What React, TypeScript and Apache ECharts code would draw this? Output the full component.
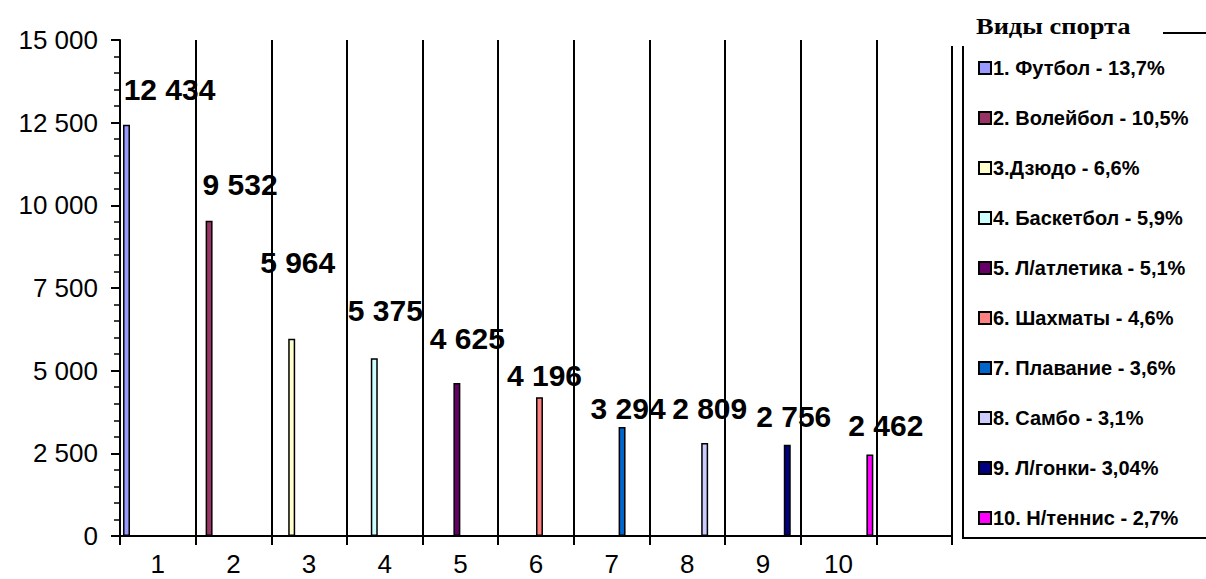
import React, { useEffect, useRef } from "react";
import * as echarts from "echarts";

const categories = ["1", "2", "3", "4", "5", "6", "7", "8", "9", "10", ""];
const sportNames = [
  "1. Футбол - 13,7%",
  "2. Волейбол - 10,5%",
  "3.Дзюдо - 6,6%",
  "4. Баскетбол - 5,9%",
  "5. Л/атлетика - 5,1%",
  "6. Шахматы - 4,6%",
  "7. Плавание - 3,6%",
  "8. Самбо - 3,1%",
  "9. Л/гонки- 3,04%",
  "10. Н/теннис - 2,7%",
];
const values = [12434, 9532, 5964, 5375, 4625, 4196, 3294, 2809, 2756, 2462];
const colors = [
  "#9999FF",
  "#993366",
  "#FFFFCC",
  "#CCFFFF",
  "#660066",
  "#FF8080",
  "#0066CC",
  "#CCCCFF",
  "#000080",
  "#FF00FF",
];
// label placement (layout only)
const labelOffsets = [
  [43, -35],
  [31, -36],
  [6, -76],
  [11, -48],
  [10.5, -45],
  [5, -22],
  [6, -18.5],
  [5, -34.5],
  [6.5, -28],
  [16, -28.6],
];
const legendTitle = "Виды спорта";

const fmt = (v: number) => String(v).replace(/\B(?=(\d{3})+(?!\d))/g, " ");

export default function App() {
  const ref = useRef<HTMLDivElement>(null);
  useEffect(() => {
    if (!ref.current) return;
    const chart = echarts.init(ref.current, null, { renderer: "svg" });
    const series = values.map((v, i) => ({
      type: "bar",
      name: sportNames[i],
      data: categories.map((_, j) => (j === i ? v : null)),
      barGap: 0,
      barCategoryGap: "8%",
      itemStyle: { color: colors[i], borderColor: "#000", borderWidth: 1.5 },
      label: {
        show: true,
        position: "top",
        distance: 0,
        align: "center",
        verticalAlign: "middle",
        offset: labelOffsets[i],
        fontSize: 30,
        fontWeight: "bold",
        fontFamily: "Arial, 'Liberation Sans'",
        color: "#000",
        formatter: (p: any) => fmt(p.value),
      },
    }));
    chart.setOption({
      animation: false,
      backgroundColor: "#fff",
      grid: { left: 120, right: 254, top: 40, bottom: 43, containLabel: false },
      xAxis: {
        type: "category",
        data: categories,
        axisLine: { show: true, lineStyle: { color: "#000", width: 2 } },
        axisTick: { show: true, length: 9, lineStyle: { color: "#000", width: 2 } },
        splitLine: { show: true, lineStyle: { color: "#000", width: 2 } },
        axisLabel: {
          interval: 0,
          fontSize: 26,
          color: "#000",
          fontFamily: "Arial, 'Liberation Sans'",
          margin: 15,
        },
      },
      yAxis: {
        type: "value",
        min: 0,
        max: 15000,
        interval: 2500,
        axisLine: { show: true, lineStyle: { color: "#000", width: 2 } },
        axisTick: { show: true, length: 9, lineStyle: { color: "#000", width: 2 } },
        minorTick: { show: true, splitNumber: 5, length: 6, lineStyle: { color: "#000", width: 1.5 } },
        splitLine: { show: false },
        axisLabel: {
          fontSize: 26,
          color: "#000",
          fontFamily: "Arial, 'Liberation Sans'",
          margin: 22,
          formatter: (v: number) => fmt(v),
        },
      },
      legend: {
        orient: "vertical",
        left: 973,
        top: 53,
        itemWidth: 12,
        itemHeight: 12,
        itemGap: 30,
        icon: "rect",
        selectedMode: false,
        textStyle: {
          fontSize: 20,
          fontWeight: "bold",
          fontFamily: "Arial, 'Liberation Sans'",
          color: "#000",
          lineHeight: 20,
          padding: [0, 0, 0, -3],
        },
      },
      graphic: [
        {
          type: "rect",
          z: 100,
          shape: { x: 963, y: 33, width: 280, height: 505 },
          style: { fill: "none", stroke: "#000", lineWidth: 2 },
        },
        {
          type: "rect",
          z: 101,
          shape: { x: 945, y: 0, width: 218, height: 46 },
          style: { fill: "#fff" },
        },
        {
          type: "text",
          z: 102,
          x: 976,
          y: 26,
          scaleX: 1.15,
          style: {
            text: legendTitle,
            x: 0,
            y: 0,
            font: "bold 23px 'Liberation Serif', 'Times New Roman', serif",
            fill: "#000",
            textAlign: "left",
            textVerticalAlign: "middle",
          },
        },
      ],
      series,
    });
    return () => chart.dispose();
  }, []);
  return (
    <div
      ref={ref}
      style={{ position: "fixed", left: 0, top: 0, width: 1206, height: 579 }}
    />
  );
}
